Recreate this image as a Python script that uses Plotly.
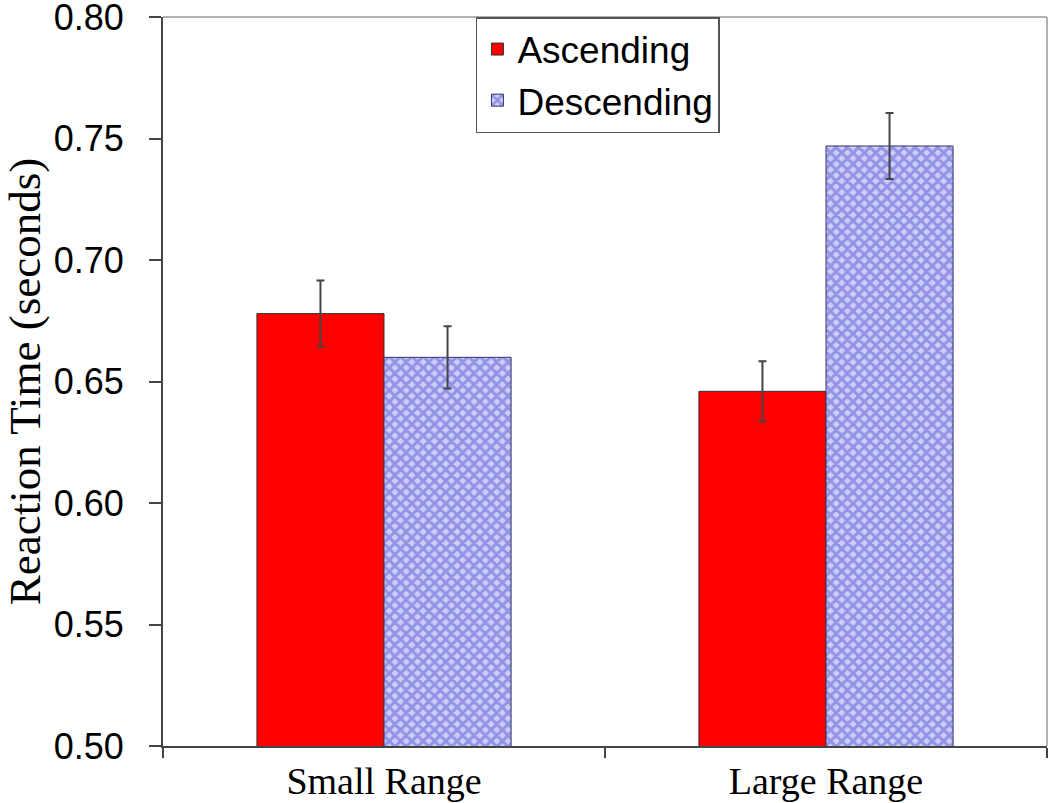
import plotly.graph_objects as go

categories = ["Small Range", "Large Range"]
ascending = [0.678, 0.646]
ascending_err = [0.0136, 0.0124]
descending = [0.660, 0.747]
descending_err = [0.0128, 0.0136]
y_ticks = [0.50, 0.55, 0.60, 0.65, 0.70, 0.75, 0.80]

fig = go.Figure()
fig.add_trace(go.Bar(
    name="Ascending", x=categories, y=ascending,
    marker=dict(color="#ff0000", line=dict(color="#333333", width=1)),
    error_y=dict(type="data", array=ascending_err, color="#444444", thickness=2, width=4),
))
fig.add_trace(go.Bar(
    name="Descending", x=categories, y=descending,
    marker=dict(color="#c8c8f8", line=dict(color="#333366", width=1),
                pattern=dict(shape="x", fgcolor="#5a5ad4", bgcolor="#cdcdf9", size=8, solidity=0.62)),
    error_y=dict(type="data", array=descending_err, color="#444444", thickness=2, width=4),
))

fig.update_layout(
    width=1050, height=803,
    margin=dict(l=163, r=3, t=17, b=57),
    paper_bgcolor="white", plot_bgcolor="white",
    barmode="group", bargap=0.425, bargroupgap=0,
    showlegend=True,
    legend=dict(x=0.354, y=1.0, xanchor="left", yanchor="top",
                bgcolor="white", bordercolor="#555555", borderwidth=1.5,
                entrywidth=225,
                font=dict(family="Liberation Sans, Arial, sans-serif", size=37, color="black"),
                tracegroupgap=0),
    font=dict(family="Liberation Sans, Arial, sans-serif", color="black"),
)
fig.update_xaxes(
    automargin=False,
    showline=True, linecolor="#444444", linewidth=2,
    ticks="outside", tickson="boundaries", ticklen=10, tickcolor="#444444", tickwidth=2,
    tickfont=dict(family="Liberation Serif, Times New Roman, serif", size=38, color="black"),
    showgrid=False, zeroline=False,
)
fig.update_yaxes(
    automargin=False,
    range=[0.5, 0.8001], tickvals=y_ticks, tickformat=".2f",
    ticklabeloverflow="allow",
    showline=True, linecolor="#444444", linewidth=2,
    ticks="outside", ticklen=12, tickcolor="#444444", tickwidth=2,
    ticklabelstandoff=18,
    tickfont=dict(family="Liberation Sans, Arial, sans-serif", size=36, color="black"),
    title=dict(text="Reaction Time (seconds)",
               font=dict(family="Liberation Serif, Times New Roman, serif", size=45, color="black"),
               standoff=9),
    showgrid=False, zeroline=False,
)
# plot-area frame (top and right edges)
fig.add_shape(type="line", xref="paper", yref="paper", x0=0, x1=1, y0=1, y1=1,
              line=dict(color="#999999", width=1.5))
fig.add_shape(type="line", xref="paper", yref="paper", x0=1, x1=1, y0=0, y1=1,
              line=dict(color="#999999", width=1.5))

fig.write_html("out.html", config={"displayModeBar": False},
               post_script="document.body.style.margin='0';")
